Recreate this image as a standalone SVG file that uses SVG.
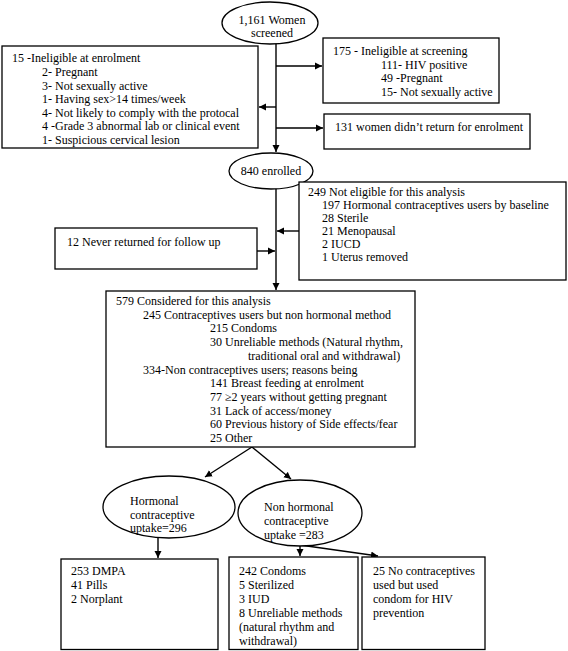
<svg xmlns="http://www.w3.org/2000/svg" width="568" height="651" viewBox="0 0 568 651" font-family="'Liberation Serif','Times New Roman',serif">
<style>
.n{fill:#fff;stroke:#000;stroke-width:1.3}
.c{fill:none;stroke:#000;stroke-width:1.4}
text{font-family:"Liberation Serif","Times New Roman",serif;font-size:12px;fill:#000}
</style>
<defs>
<marker id="ah" markerWidth="8" markerHeight="8" refX="7" refY="4" orient="auto" markerUnits="userSpaceOnUse">
<path d="M0,0.5 L7,4 L0,7.5 Z" fill="#000"/>
</marker>
</defs>
<rect width="568" height="651" fill="#fff"/>
<g id="connectors">
<line class="c" x1="276" y1="43" x2="276" y2="152" marker-end="url(#ah)"/>
<line class="c" x1="276" y1="66" x2="322" y2="66" marker-end="url(#ah)"/>
<line class="c" x1="276" y1="107" x2="259" y2="107" marker-end="url(#ah)"/>
<line class="c" x1="276" y1="128" x2="323" y2="128" marker-end="url(#ah)"/>
<line class="c" x1="276" y1="188" x2="276" y2="290" marker-end="url(#ah)"/>
<line class="c" x1="299" y1="231" x2="277" y2="231" marker-end="url(#ah)"/>
<line class="c" x1="257" y1="251" x2="275" y2="251" marker-end="url(#ah)"/>
<line class="c" x1="252" y1="447" x2="205" y2="477" marker-end="url(#ah)"/>
<line class="c" x1="252" y1="447" x2="291" y2="479" marker-end="url(#ah)"/>
<line class="c" x1="158" y1="538" x2="158" y2="558" marker-end="url(#ah)"/>
<line class="c" x1="300" y1="546" x2="300" y2="556" marker-end="url(#ah)"/>
<line class="c" x1="300" y1="545" x2="378" y2="556" marker-end="url(#ah)"/>
</g>
<g id="screened">
<ellipse class="n" cx="270" cy="23" rx="48" ry="21"/>
<text x="272" y="23.5" text-anchor="middle">1,161 Women</text>
<text x="272" y="37" text-anchor="middle">screened</text>
</g>
<g id="ineligible-enrolment">
<rect class="n" x="2" y="46" width="256" height="102"/>
<text x="12" y="62">15 -Ineligible at enrolment</text>
<text x="42" y="76">2- Pregnant</text>
<text x="42" y="89.5">3- Not sexually active</text>
<text x="42" y="103">1- Having sex&gt;14 times/week</text>
<text x="42" y="116.5">4- Not likely to comply with the protocal</text>
<text x="42" y="130">4 -Grade 3 abnormal lab or clinical event</text>
<text x="42" y="143.5">1- Suspicious cervical lesion</text>
</g>
<g id="ineligible-screening">
<rect class="n" x="323" y="38" width="176" height="65"/>
<text x="333" y="55">175 - Ineligible at screening</text>
<text x="381" y="68.5">111- HIV positive</text>
<text x="381" y="82">49 -Pregnant</text>
<text x="381" y="95.5">15- Not sexually active</text>
</g>
<g id="not-returned-enrolment">
<rect class="n" x="324" y="114" width="206" height="35"/>
<text x="335" y="131">131 women didn’t return for enrolment</text>
</g>
<g id="enrolled">
<ellipse class="n" cx="271" cy="171" rx="42" ry="18"/>
<text x="271" y="175" text-anchor="middle">840 enrolled</text>
</g>
<g id="not-eligible">
<rect class="n" x="299" y="182" width="267" height="98"/>
<text x="308" y="196">249 Not eligible for this analysis</text>
<text x="322" y="209">197 Hormonal contraceptives users by baseline</text>
<text x="322" y="222">28 Sterile</text>
<text x="322" y="235">21 Menopausal</text>
<text x="322" y="248">2 IUCD</text>
<text x="322" y="261">1 Uterus removed</text>
</g>
<g id="never-returned">
<rect class="n" x="55" y="228" width="202" height="41"/>
<text x="67" y="246">12 Never returned for follow up</text>
</g>
<g id="considered">
<rect class="n" x="106" y="291" width="309" height="156"/>
<text x="116" y="305">579 Considered for this analysis</text>
<text x="143" y="318.7">245 Contraceptives users but non hormonal method</text>
<text x="210" y="332.4">215 Condoms</text>
<text x="210" y="346.1">30 Unreliable methods (Natural rhythm,</text>
<text x="248" y="359.8">traditional oral and withdrawal)</text>
<text x="143" y="373.5">334-Non contraceptives users; reasons being</text>
<text x="210" y="387.2">141 Breast feeding at enrolment</text>
<text x="210" y="400.9">77 ≥2 years without getting pregnant</text>
<text x="210" y="414.6">31 Lack of access/money</text>
<text x="210" y="428.3">60 Previous history of Side effects/fear</text>
<text x="210" y="442">25 Other</text>
</g>
<g id="hormonal">
<ellipse class="n" cx="169" cy="507" rx="66" ry="31"/>
<text x="130" y="505">Hormonal</text>
<text x="130" y="518.5">contraceptive</text>
<text x="130" y="532">uptake=296</text>
</g>
<g id="non-hormonal">
<ellipse class="n" cx="300" cy="513" rx="62" ry="33"/>
<text x="264" y="511">Non hormonal</text>
<text x="264" y="525">contraceptive</text>
<text x="264" y="539">uptake =283</text>
</g>
<g id="hormonal-methods">
<rect class="n" x="61" y="559" width="157" height="90.5"/>
<text x="71" y="575">253 DMPA</text>
<text x="71" y="589">41 Pills</text>
<text x="71" y="603">2 Norplant</text>
</g>
<g id="non-hormonal-methods">
<rect class="n" x="229" y="557" width="129" height="92.5"/>
<text x="239" y="575">242 Condoms</text>
<text x="239" y="589">5 Sterilized</text>
<text x="239" y="603">3 IUD</text>
<text x="239" y="617">8 Unreliable methods</text>
<text x="239" y="631">(natural rhythm and</text>
<text x="239" y="645">withdrawal)</text>
</g>
<g id="condom-hiv">
<rect class="n" x="362" y="557" width="123" height="92.5"/>
<text x="373" y="575">25 No contraceptives</text>
<text x="373" y="589">used but used</text>
<text x="373" y="603">condom for HIV</text>
<text x="373" y="617">prevention</text>
</g>
</svg>
